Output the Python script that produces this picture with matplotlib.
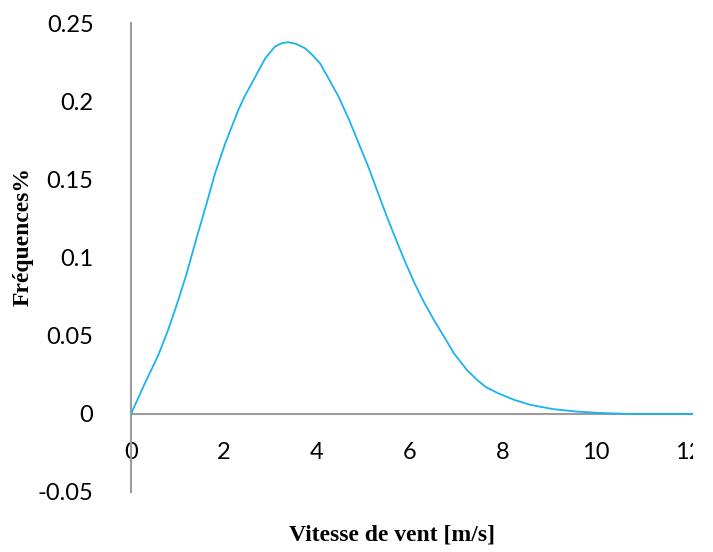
import matplotlib
matplotlib.use("Agg")
import matplotlib.pyplot as plt
from matplotlib.patches import Rectangle

# Wind speed (m/s) and frequency values of the distribution curve
wind_speed = [0, 0.30, 0.59, 0.80, 1.02, 1.20, 1.42, 1.63, 1.81, 2.03, 2.31,
              2.45, 2.60, 2.75, 2.89, 3.10, 3.25, 3.39, 3.55, 3.75, 3.90,
              4.07, 4.25, 4.47, 4.70, 4.92, 5.10, 5.30, 5.50, 5.70, 5.90,
              6.10, 6.30, 6.52, 6.75, 6.95, 7.23, 7.45, 7.65, 7.90, 8.25,
              8.60, 9.10, 9.60, 10.10, 10.70, 12.5]
frequency = [0, 0.0197, 0.0378, 0.0538, 0.0730, 0.0901, 0.1135, 0.1349,
             0.1541, 0.1733, 0.1946, 0.2035, 0.2117, 0.2200, 0.2277, 0.2352,
             0.2375, 0.2380, 0.2370, 0.2341, 0.2300, 0.2245, 0.2150, 0.2031,
             0.1880, 0.1720, 0.1590, 0.1430, 0.1270, 0.1120, 0.0975, 0.0840,
             0.0720, 0.0602, 0.0490, 0.0389, 0.0282, 0.0218, 0.0170, 0.0133,
             0.0090, 0.0058, 0.0030, 0.0015, 0.0006, 0.0, 0.0]

x_ticks = [0, 2, 4, 6, 8, 10, 12]
y_ticks = [-0.05, 0, 0.05, 0.1, 0.15, 0.2, 0.25]
y_tick_labels = ["-0.05", "0", "0.05", "0.1", "0.15", "0.2", "0.25"]

W, H = 713, 552
fig = plt.figure(figsize=(W / 100, H / 100), dpi=100)
ax = fig.add_axes([131 / W, (H - 492) / H, (693 - 131) / W, (492 - 23.5) / H])

ax.plot(wind_speed, frequency, color="#1CB2EE", lw=1.3, zorder=3,
        solid_joinstyle="round")

ax.set_xlim(0, 12.1)
ax.set_ylim(-0.05, 0.25)

axis_grey = "#9C9C9C"
for side in ("top", "right"):
    ax.spines[side].set_visible(False)
ax.spines["left"].set_position(("data", 0))
ax.spines["bottom"].set_position(("data", 0))
for side in ("left", "bottom"):
    ax.spines[side].set_color(axis_grey)
    ax.spines[side].set_linewidth(1.5)
    ax.spines[side].set_zorder(2)

tick_font = dict(family="Lato", size=17, color="black")
ax.set_xticks(x_ticks)
ax.set_xticklabels([str(v) for v in x_ticks], **tick_font)
ax.set_yticks(y_ticks)
ax.set_yticklabels(y_tick_labels, **tick_font)
ax.tick_params(axis="x", length=0, pad=20)
ax.tick_params(axis="y", length=0, pad=27)

label_font = dict(family="Liberation Serif", weight="bold", size=17)
fig.text(392 / W, 1 - 535 / H, "Vitesse de vent [m/s]", ha="center", va="center",
         **label_font)
fig.text(23 / W, 1 - 236 / H, "Fréquences%", ha="center", va="center",
         rotation=90, **label_font)

# Right margin strip of the exported chart area
fig.patches.append(Rectangle((693 / W, 0), 1 - 693 / W, 1, transform=fig.transFigure,
                             facecolor="white", edgecolor="none", zorder=10))

fig.savefig("out.png", dpi=100)
